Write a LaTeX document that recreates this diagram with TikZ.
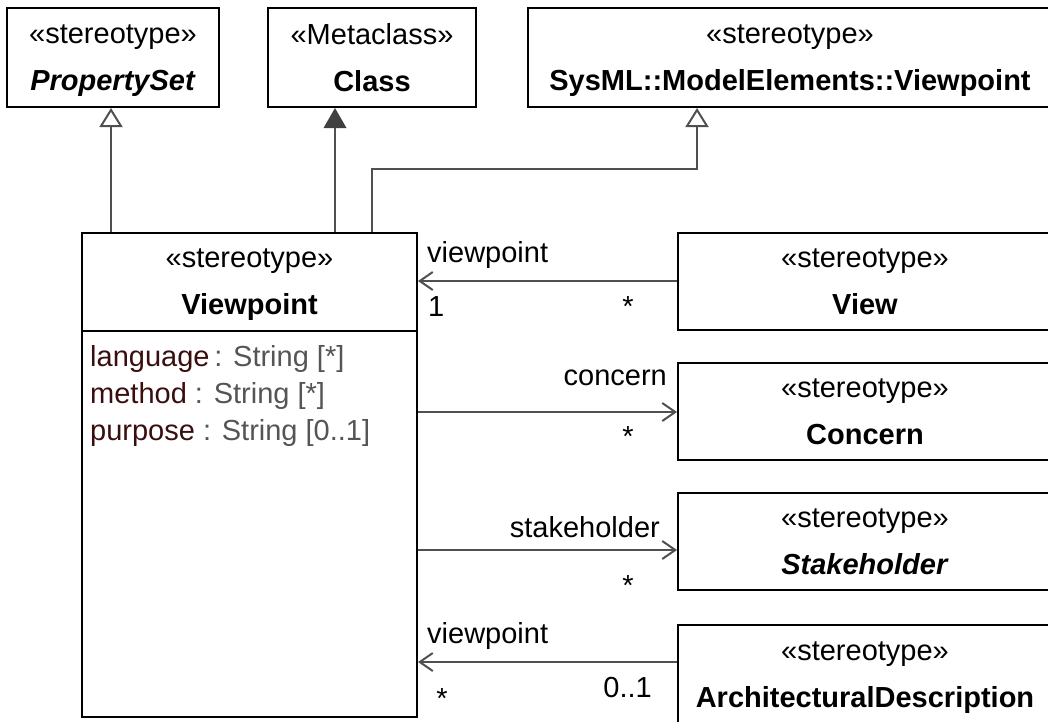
\documentclass[tikz,border=0pt]{standalone}
\usepackage{fontspec}
\setmainfont{Liberation Sans}
\usetikzlibrary{arrows.meta}
\definecolor{linegray}{RGB}{80,80,80}
\definecolor{tipfill}{RGB}{64,64,64}
\definecolor{attrname}{RGB}{58,14,14}
\definecolor{attrtype}{RGB}{85,85,85}
\begin{document}
\begin{tikzpicture}[x=1pt,y=-1pt,
  font=\fontsize{29}{47}\selectfont,
  box/.style={draw=black, line width=2pt, inner sep=0pt, align=center, text depth=0pt},
  headtext/.style={inner sep=0pt, align=center, text depth=0pt},
  gen/.style={draw=linegray, line width=2pt, -{Triangle[open, length=19pt, width=23pt, line width=2pt]}},
  genfill/.style={draw=linegray, line width=2pt, -{Triangle[length=20pt, width=23pt, line width=0pt, fill=tipfill]}},
  assoc/.style={draw=linegray, line width=2pt, -{Straight Barb[length=13pt, width=18pt, line width=2pt]}},
  lbl/.style={inner sep=0pt, font=\fontsize{29}{34}\selectfont},
  attr/.style={inner sep=0pt, anchor=base west, font=\fontsize{29}{34}\selectfont}]
\useasboundingbox (0,0) rectangle (1048,721);

% top boxes
\node[box, minimum width=212pt, minimum height=99pt] (ps) at (113,57.5)
  {«stereotype»\\\textbf{\textit{PropertySet}}};
\node[box, minimum width=208pt, minimum height=99pt] (cls) at (372,57.5)
  {«Metaclass»\\\textbf{Class}};
\node[box, minimum width=524pt, minimum height=99pt] (sys) at (790,57.5)
  {«stereotype»\\\textbf{SysML::ModelElements::Viewpoint}};

% Viewpoint class
\node[draw=black, line width=2pt, minimum width=335pt, minimum height=484pt, inner sep=0pt] (vp) at (249.5,475) {};
\node[headtext] (vphead) at (249.5,282) {«stereotype»\\\textbf{Viewpoint}};
\coordinate (div) at (0,331);
\draw[black, line width=2pt] (vp.west |- div) -- (vp.east |- div);
\node[attr] (a1) at (90,366) {\textcolor{attrname}{language}\,\textcolor{attrtype}{: String [*]}};
\node[attr] (a2) at (90,403) {\textcolor{attrname}{method}\ \textcolor{attrtype}{: String [*]}};
\node[attr] (a3) at (90,440) {\textcolor{attrname}{purpose}\ \textcolor{attrtype}{: String [0..1]}};

% right boxes
\node[box, minimum width=374pt, minimum height=97pt] (view) at (865,281.5)
  {«stereotype»\\\textbf{View}};
\node[box, minimum width=374pt, minimum height=97pt] (concern) at (865,411.5)
  {«stereotype»\\\textbf{Concern}};
\node[box, minimum width=374pt, minimum height=97pt] (stake) at (865,541.5)
  {«stereotype»\\\textbf{\textit{Stakeholder}}};
\node[box, minimum width=374pt, minimum height=99pt] (arch) at (865,674.5)
  {«stereotype»\\\textbf{ArchitecturalDescription}};

% generalizations
\coordinate (psA) at (111,0);
\coordinate (clsA) at (335,0);
\coordinate (bend) at (372,169);
\coordinate (sysA) at (697,0);
\draw[gen] (vp.north -| psA) -- (ps.south -| psA);
\draw[genfill] (vp.north -| clsA) -- (cls.south -| clsA);
\draw[gen] (vp.north -| bend) -- (bend) -| (sys.south -| sysA);

% associations
\coordinate (yView) at (0,281);
\coordinate (yConcern) at (0,412);
\coordinate (yStake) at (0,550);
\coordinate (yArch) at (0,662);
\draw[assoc] (view.west |- yView) -- (vp.east |- yView);
\draw[assoc] (vp.east |- yConcern) -- (concern.west |- yConcern);
\draw[assoc] (vp.east |- yStake) -- (stake.west |- yStake);
\draw[assoc] (arch.west |- yArch) -- (vp.east |- yArch);

% association labels
\node[lbl, anchor=base west] (l1) at (427,262) {viewpoint};
\node[lbl, anchor=base west] (l2) at (428,316) {1};
\node[lbl, anchor=base] (l3) at (628,316) {*};
\node[lbl, anchor=base east] (l4) at (667,385) {concern};
\node[lbl, anchor=base] (l5) at (628,446) {*};
\node[lbl, anchor=base east] (l6) at (660,537) {stakeholder};
\node[lbl, anchor=base] (l7) at (628,595) {*};
\node[lbl, anchor=base west] (l8) at (427,643) {viewpoint};
\node[lbl, anchor=base] (l9) at (442,708) {*};
\node[lbl, anchor=base east] (l10) at (652,697) {0..1};
\end{tikzpicture}
\end{document}
